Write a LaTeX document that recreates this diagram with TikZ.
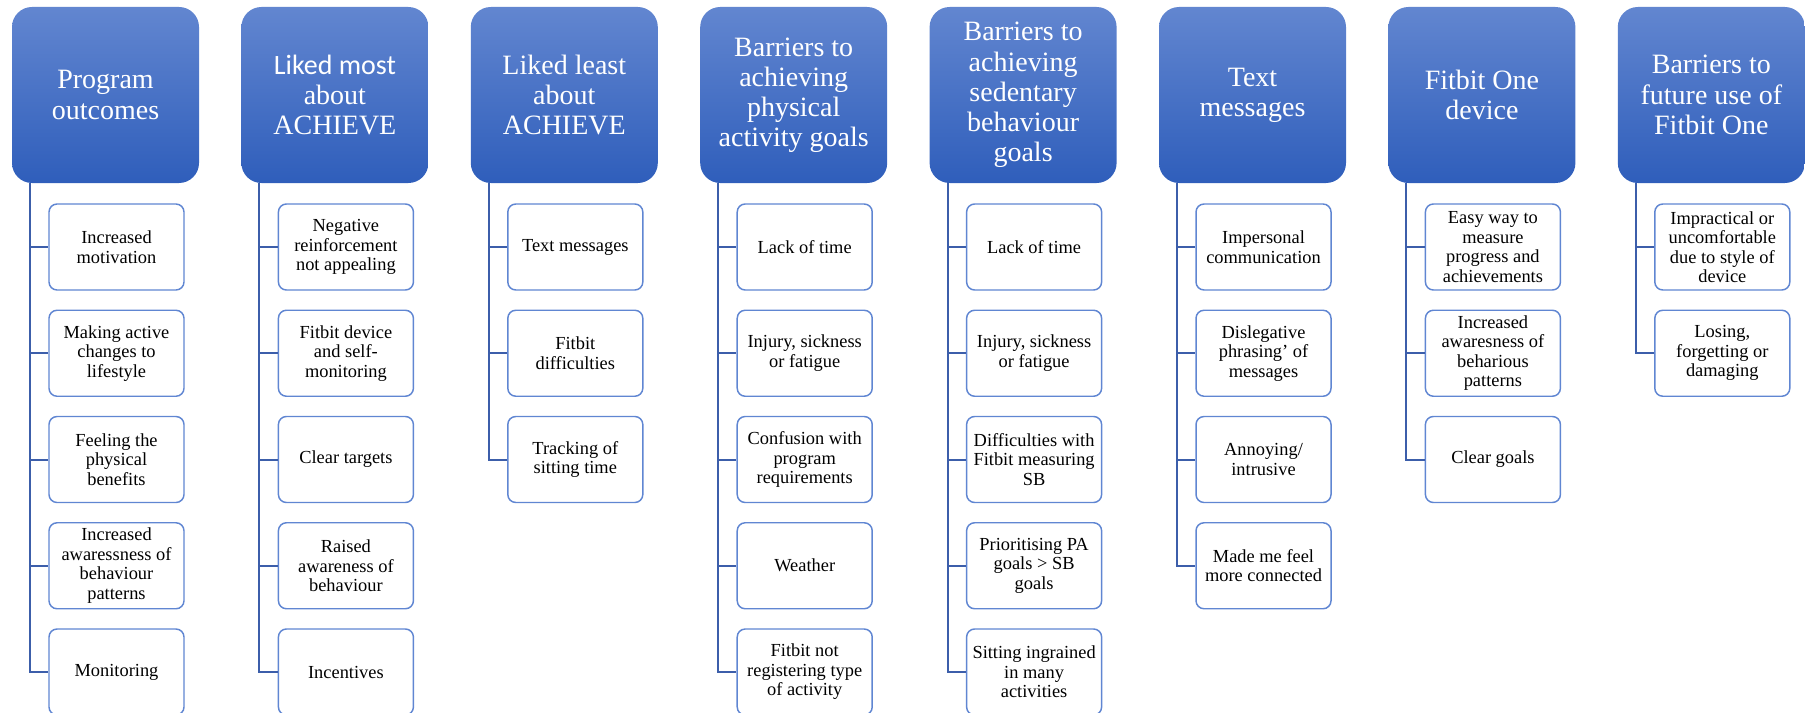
\documentclass[tikz,border=0pt]{standalone}
\usepackage{fontspec}
\setmainfont{Liberation Serif}
\newfontfamily\calib{Carlito}
\definecolor{hdrtop}{RGB}{98,134,208}
\definecolor{hdrbot}{RGB}{47,94,187}
\definecolor{leafline}{RGB}{96,134,210}
\definecolor{connline}{RGB}{60,94,170}
\begin{document}
\begin{tikzpicture}[x=0.75pt,y=-0.75pt,
  hdr/.style={rectangle, rounded corners=15pt, top color=hdrtop, bottom color=hdrbot, draw=none,
    minimum width=140.25pt, minimum height=132pt, inner sep=0pt, text=white, align=center,
    font=\fontsize{21}{22.6}\selectfont},
  leaf/.style={rectangle, rounded corners=6pt, draw=leafline, line width=1.1pt, fill=white,
    minimum width=101.25pt, minimum height=64.5pt, inner sep=0pt, text=black, align=center,
    font=\fontsize{13.8}{14.6}\selectfont},
  conn/.style={draw=connline, line width=1.5pt}]
\useasboundingbox (0,0) rectangle (1805,713);

% headers
\node[hdr] (h1) at (105.5,95) {Program\\outcomes};
\node[hdr] (h2) at (334.9,95) {{\calib Liked most}\\about\\ACHIEVE};
\node[hdr] (h3) at (564.3,95) {Liked least\\about\\ACHIEVE};
\node[hdr] (h4) at (793.7,95) {Barriers to\\achieving\\physical\\activity goals};
\node[hdr] (h5) at (1023.1,95) {Barriers to\\achieving\\sedentary\\behaviour\\goals};
\node[hdr] (h6) at (1252.5,95) {Text\\messages};
\node[hdr] (h7) at (1481.9,95) {Fitbit One\\device};
\node[hdr] (h8) at (1711.3,95) {Barriers to\\future use of\\Fitbit One};

% trunk start points
\coordinate (t1) at (30,183);
\coordinate (t2) at (259.4,183);
\coordinate (t3) at (488.8,183);
\coordinate (t4) at (718.2,183);
\coordinate (t5) at (947.6,183);
\coordinate (t6) at (1177,183);
\coordinate (t7) at (1406.4,183);
\coordinate (t8) at (1635.8,183);

% column 1
\node[leaf] (c11) at (116.5,247) {Increased\\motivation};
\node[leaf] (c12) at (116.5,353.25) {Making active\\changes to\\lifestyle};
\node[leaf] (c13) at (116.5,459.5) {Feeling the\\physical\\benefits};
\node[leaf] (c14) at (116.5,565.75) {Increased\\awaressness of\\behaviour\\patterns};
\node[leaf] (c15) at (116.5,672) {Monitoring};
% column 2
\node[leaf] (c21) at (345.9,247) {Negative\\reinforcement\\not appealing};
\node[leaf] (c22) at (345.9,353.25) {Fitbit device\\and self-\\monitoring};
\node[leaf] (c23) at (345.9,459.5) {Clear targets};
\node[leaf] (c24) at (345.9,565.75) {Raised\\awareness of\\behaviour};
\node[leaf] (c25) at (345.9,672) {Incentives};
% column 3
\node[leaf] (c31) at (575.3,247) {Text messages};
\node[leaf] (c32) at (575.3,353.25) {Fitbit\\difficulties};
\node[leaf] (c33) at (575.3,459.5) {Tracking of\\sitting time};
% column 4
\node[leaf] (c41) at (804.7,247) {Lack of time};
\node[leaf] (c42) at (804.7,353.25) {Injury, sickness\\or fatigue};
\node[leaf] (c43) at (804.7,459.5) {Confusion with\\program\\requirements};
\node[leaf] (c44) at (804.7,565.75) {Weather};
\node[leaf] (c45) at (804.7,672) {Fitbit not\\registering type\\of activity};
% column 5
\node[leaf] (c51) at (1034.1,247) {Lack of time};
\node[leaf] (c52) at (1034.1,353.25) {Injury, sickness\\or fatigue};
\node[leaf] (c53) at (1034.1,459.5) {Difficulties with\\Fitbit measuring\\SB};
\node[leaf] (c54) at (1034.1,565.75) {Prioritising PA\\goals > SB\\goals};
\node[leaf] (c55) at (1034.1,672) {Sitting ingrained\\in many\\activities};
% column 6
\node[leaf] (c61) at (1263.5,247) {Impersonal\\communication};
\node[leaf] (c62) at (1263.5,353.25) {Dislegative\\phrasing{\char"0027} of\\messages};
\node[leaf] (c63) at (1263.5,459.5) {Annoying/\\intrusive};
\node[leaf] (c64) at (1263.5,565.75) {Made me feel\\more connected};
% column 7
\node[leaf] (c71) at (1492.9,247) {Easy way to\\measure\\progress and\\achievements};
\node[leaf] (c72) at (1492.9,353.25) {Increased\\awaresness of\\beharious\\patterns};
\node[leaf] (c73) at (1492.9,459.5) {Clear goals};
% column 8
\node[leaf] (c81) at (1722.3,247) {Impractical or\\uncomfortable\\due to style of\\device};
\node[leaf] (c82) at (1722.3,353.25) {Losing,\\forgetting or\\damaging};

% connectors
\foreach \c/\n in {1/5,2/5,3/3,4/5,5/5,6/4,7/3,8/2}{
  \foreach \k in {1,...,\n}{
    \draw[conn] (t\c) |- (c\c\k.west);
  }
}
\end{tikzpicture}
\end{document}
